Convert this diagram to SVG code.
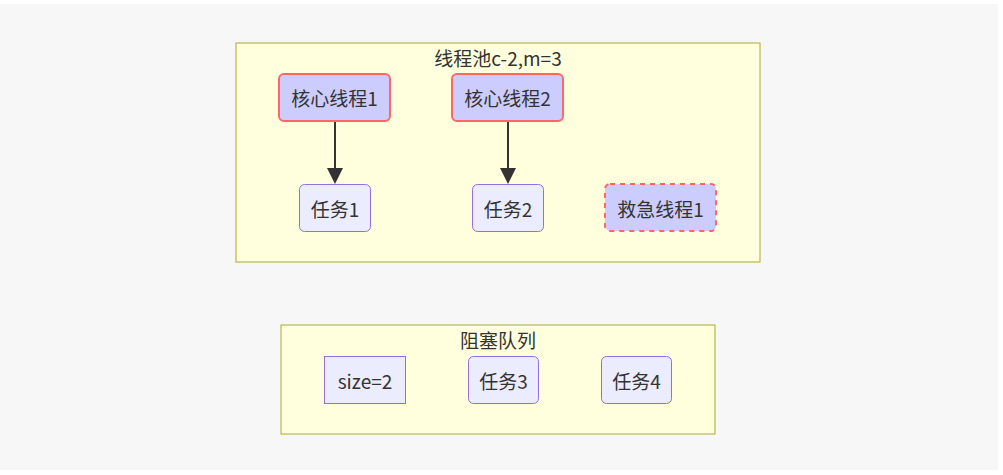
<svg xmlns="http://www.w3.org/2000/svg" width="1003" height="475" viewBox="0 0 1003 475">
<defs>
<style>
text{font-family:"Noto Sans CJK SC","Microsoft YaHei","Liberation Sans",sans-serif;font-size:19px;fill:#333;text-anchor:middle;dominant-baseline:central}
.cluster{fill:#ffffde;stroke:#aaaa33;stroke-width:1}
.core{fill:#ccccff;stroke:#ff6666;stroke-width:2}
.emerg{fill:#ccccff;stroke:#ff6666;stroke-width:2;stroke-dasharray:5 5}
.task{fill:#ececff;stroke:#9370db;stroke-width:1}
.edge{stroke:#333;stroke-width:2;fill:none}
</style>
</defs>
<rect x="0" y="0" width="1003" height="475" fill="#ffffff"/>
<rect x="0" y="4" width="998" height="466" fill="#f7f7f7"/>
<g id="pool">
<rect class="cluster" x="236" y="43" width="524" height="219"/>
<text x="498" y="57">线程池c-2,m=3</text>
</g>
<g id="queue">
<rect class="cluster" x="281" y="325" width="434" height="109"/>
<text x="498" y="339">阻塞队列</text>
</g>
<g id="connectors">
<path class="edge" d="M335,122 V168"/>
<path d="M327,168 L335,184 L343,168 z" fill="#333"/>
<path class="edge" d="M508,122 V168"/>
<path d="M500,168 L508,184 L516,168 z" fill="#333"/>
</g>
<g id="core1">
<rect class="core" x="279" y="74" width="111" height="47" rx="5"/>
<text x="334.5" y="97.5">核心线程1</text>
</g>
<g id="core2">
<rect class="core" x="452" y="74" width="111" height="47" rx="5"/>
<text x="507.5" y="97.5">核心线程2</text>
</g>
<g id="task1">
<rect class="task" x="299.5" y="184.5" width="71" height="47" rx="5"/>
<text x="335" y="208">任务1</text>
</g>
<g id="task2">
<rect class="task" x="472.5" y="184.5" width="71" height="47" rx="5"/>
<text x="508" y="208">任务2</text>
</g>
<g id="emergency1">
<rect class="emerg" x="605" y="184" width="111" height="47" rx="5"/>
<text x="660.5" y="208">救急线程1</text>
</g>
<g id="size">
<rect class="task" x="324.5" y="356.5" width="81" height="47"/>
<text x="365" y="380">size=2</text>
</g>
<g id="task3">
<rect class="task" x="468.5" y="356.5" width="70" height="47" rx="5"/>
<text x="503.5" y="380">任务3</text>
</g>
<g id="task4">
<rect class="task" x="601.5" y="356.5" width="70" height="47" rx="5"/>
<text x="636.5" y="380">任务4</text>
</g>
</svg>
